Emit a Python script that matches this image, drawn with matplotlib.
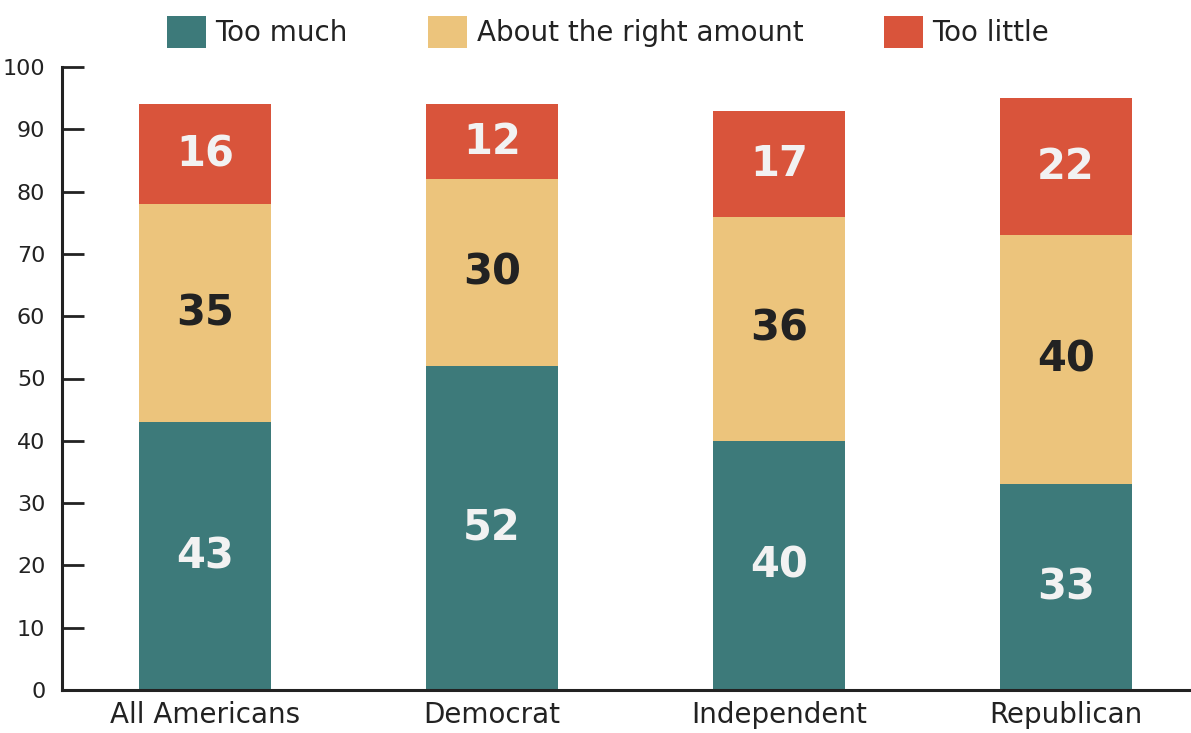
import numpy as np
import matplotlib.pyplot as plt
from matplotlib.patches import Patch

# Survey shares by group, stacked bottom to top
groups = ["All Americans", "Democrat", "Independent", "Republican"]
too_much = [43, 52, 40, 33]
about_right = [35, 30, 36, 40]
too_little = [16, 12, 17, 22]

series_names = ["Too much", "About the right amount", "Too little"]
colors = ["#3d7a7a", "#ecc47c", "#d9543b"]
label_colors = ["#f2f2f2", "#222222", "#f2f2f2"]

plt.rcParams['font.family'] = ['DejaVu Sans']

fig = plt.figure(figsize=(11.91, 7.33), dpi=100)
ax = fig.add_axes([62 / 1191, 43 / 733, 1 - 62 / 1191, (690 - 67) / 733])

x = np.arange(len(groups))
bottom = np.zeros(len(groups))
for vals, col, tcol in zip([too_much, about_right, too_little], colors, label_colors):
    vals = np.array(vals)
    ax.bar(x, vals, width=0.46, bottom=bottom, color=col, zorder=2)
    for xi, b, v in zip(x, bottom, vals):
        ax.text(xi, b + v / 2, str(v), ha='center', va='center',
                fontsize=30, fontweight='bold', color=tcol, zorder=3)
    bottom += vals

ax.set_ylim(0, 100)
ax.set_xlim(-0.498, 3.436)
ax.set_yticks(range(0, 101, 10))
ax.set_xticks(x)
ax.set_xticklabels(groups)

for s in ['top', 'right']:
    ax.spines[s].set_visible(False)
for s in ['left', 'bottom']:
    ax.spines[s].set_linewidth(2.2)
    ax.spines[s].set_color('#222222')

ax.tick_params(axis='y', direction='in', length=16, width=2, color='#222222',
               labelsize=16, pad=12, labelcolor='#222222')
ax.tick_params(axis='x', length=0, labelsize=20, pad=8, labelcolor='#222222')

handles = [Patch(facecolor=c, edgecolor='none') for c in colors]
fig.legend(handles, series_names, loc='center', ncol=3,
           bbox_to_anchor=(608 / 1191, 1 - 32 / 733), frameon=False, fontsize=20,
           handlelength=1.4, handleheight=1.4, handletextpad=0.35,
           columnspacing=2.9, labelcolor='#222222', borderpad=0)

fig.savefig("out.png", dpi=100)
